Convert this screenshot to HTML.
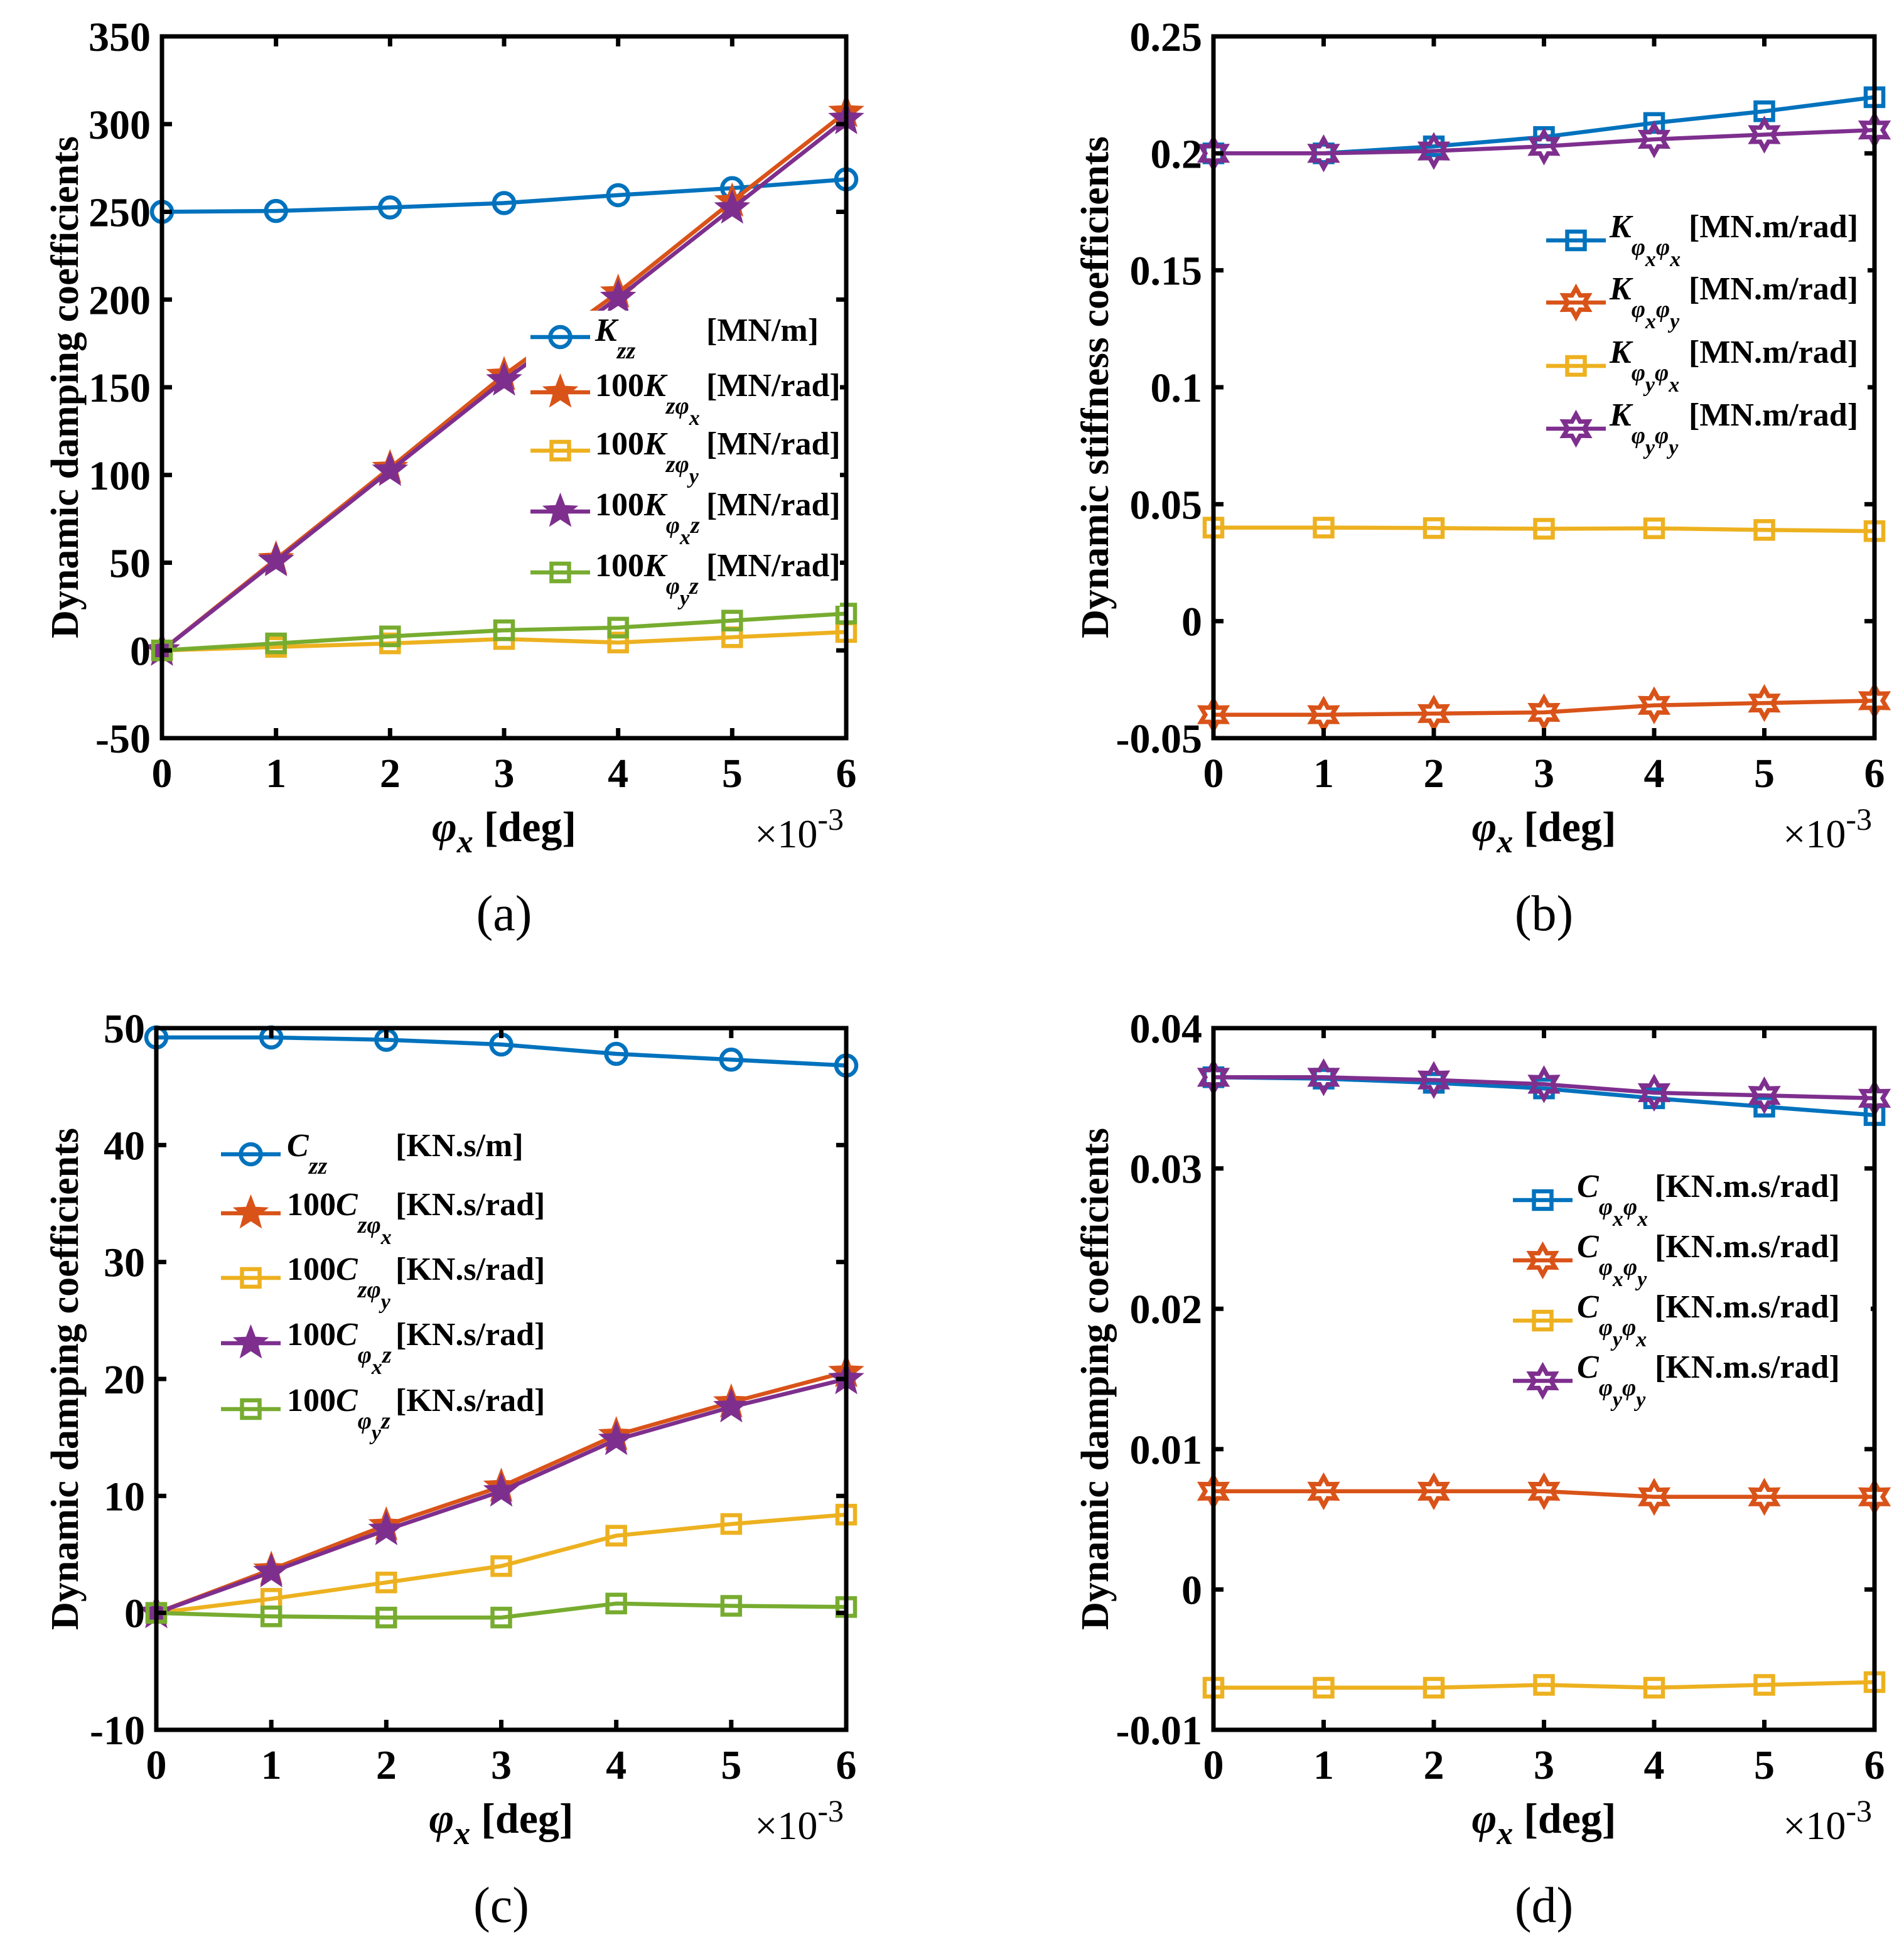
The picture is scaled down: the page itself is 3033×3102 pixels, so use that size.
<!DOCTYPE html>
<html><head><meta charset="utf-8">
<style>
html,body{margin:0;padding:0;background:#fff;}
svg{display:block;}
text{font-family:"Liberation Serif",serif;font-weight:bold;fill:#000;}
</style></head>
<body>
<svg id="fig" width="3033" height="3102" viewBox="0 0 3033 3102" xmlns="http://www.w3.org/2000/svg">
<rect x="0" y="0" width="3033" height="3102" fill="#fff"/>
</svg>
<script>
// shared x categories
const xVals = [0, 1, 2, 3, 4, 5, 6];
const xTicks = ['0','1','2','3','4','5','6'];

// panel (a)
const aKzz   = [250, 250.5, 252.5, 255, 259.5, 263.5, 268.5];
const aKzpx  = [0, 52, 104, 157, 204, 256, 307];
const aKzpy  = [0, 2, 4, 6.5, 4.5, 7.5, 10.5];
const aKpxz  = [0, 51, 102.5, 154, 201, 252, 303];
const aKpyz  = [0, 4, 8, 11.5, 13, 17, 21];
const aYTicks = [-50, 0, 50, 100, 150, 200, 250, 300, 350];

// panel (b)
const bKpxpx = [0.2, 0.2, 0.203, 0.207, 0.213, 0.218, 0.224];
const bKpxpy = [-0.04, -0.04, -0.0395, -0.039, -0.036, -0.035, -0.034];
const bKpypx = [0.04, 0.04, 0.0398, 0.0395, 0.0397, 0.039, 0.0385];
const bKpypy = [0.2, 0.2, 0.201, 0.203, 0.206, 0.208, 0.210];
const bYTicks = [-0.05, 0, 0.05, 0.1, 0.15, 0.2, 0.25];
const bYLabels = ['-0.05','0','0.05','0.1','0.15','0.2','0.25'];

// panel (c)
const cCzz   = [49.2, 49.2, 49, 48.6, 47.8, 47.3, 46.8];
const cCzpx  = [0, 3.7, 7.5, 10.8, 15.2, 18, 20.6];
const cCzpy  = [0, 1.2, 2.6, 4, 6.6, 7.6, 8.4];
const cCpxz  = [0, 3.5, 7.1, 10.4, 14.8, 17.6, 20];
const cCpyz  = [0, -0.3, -0.4, -0.4, 0.8, 0.6, 0.5];
const cYTicks = [-10, 0, 10, 20, 30, 40, 50];

// panel (d)
const dCpxpx = [0.0365, 0.0364, 0.0361, 0.0357, 0.0350, 0.0344, 0.0338];
const dCpxpy = [0.007, 0.007, 0.007, 0.007, 0.0066, 0.0066, 0.0066];
const dCpypx = [-0.007, -0.007, -0.007, -0.0068, -0.007, -0.0068, -0.0066];
const dCpypy = [0.0365, 0.0365, 0.0363, 0.036, 0.0354, 0.0352, 0.035];
const dYTicks = [-0.01, 0, 0.01, 0.02, 0.03, 0.04];
const dYLabels = ['-0.01','0','0.01','0.02','0.03','0.04'];

const BLUE='#0072BD', ORANGE='#D95319', YELLOW='#EDB120', PURPLE='#7E2F8E', GREEN='#77AC30';
const NS='http://www.w3.org/2000/svg';
const svg=document.getElementById('fig');

function mk(tag, attrs, parent){
  const e=document.createElementNS(NS,tag);
  for(const k in attrs) e.setAttribute(k,attrs[k]);
  (parent||svg).appendChild(e);
  return e;
}

function drawMarker(g, type, cx, cy, color){
  let m;
  if(type==='circle'){
    m=mk('circle',{cx:cx,cy:cy,r:16,fill:'none',stroke:color,'stroke-width':6.5},g);
  } else if(type==='square'){
    m=mk('rect',{x:cx-14,y:cy-14,width:28,height:28,fill:'none',stroke:color,'stroke-width':6.5},g);
  } else if(type==='star'){
    let p=[];
    for(let i=0;i<10;i++){const r=i%2?11:26;const a=-Math.PI/2+i*Math.PI/5;p.push((cx+r*Math.cos(a)).toFixed(1)+','+(cy+r*Math.sin(a)).toFixed(1));}
    m=mk('polygon',{points:p.join(' '),fill:color,stroke:color,'stroke-width':3},g);
  } else {
    let p=[];
    for(let i=0;i<12;i++){const r=i%2?13:23;const a=-Math.PI/2+i*Math.PI/6;p.push((cx+r*Math.cos(a)).toFixed(1)+','+(cy+r*Math.sin(a)).toFixed(1));}
    m=mk('polygon',{points:p.join(' '),fill:'none',stroke:color,'stroke-width':7},g);
  }
  
  
}

function richText(parent, x, y, pieces, name){
  const t=mk('text',{x:x,y:y,'font-size':52},parent);
  
  
  const sizes=[52,38,34], offs=[0,28,46];
  let lvl=0;
  pieces.forEach(p=>{
    const ts=mk('tspan',{'font-size':sizes[p[1]]},t);
    if(p[1]!==lvl){ts.setAttribute('dy',offs[p[1]]-offs[lvl]);lvl=p[1];}
    if(p[2]) ts.setAttribute('font-style','italic');
    ts.textContent=p[0];
  });
  return t;
}

function panel(cfg){
  const g=mk('g',{});
  
  
  const L=cfg.L,R=cfg.R,T=cfg.T,B=cfg.B;
  const xs=v=>L+(v-0)/(6-0)*(R-L);
  const ys=v=>B-(v-cfg.ymin)/(cfg.ymax-cfg.ymin)*(B-T);
  cfg.series.forEach(s=>{
    const sg=mk('g',{},g);
    
    
    const pts=xVals.map((x,i)=>xs(x).toFixed(1)+','+ys(s.data[i]).toFixed(1)).join(' ');
    const pl=mk('polyline',{points:pts,fill:'none',stroke:s.color,'stroke-width':6.5,'stroke-linejoin':'round'},sg);
    
    
    xVals.forEach((x,i)=>drawMarker(sg,s.marker,xs(x),ys(s.data[i]),s.color));
  });
  const box=mk('rect',{x:L,y:T,width:R-L,height:B-T,fill:'none',stroke:'#000','stroke-width':7},g);
  
  
  xVals.forEach((x,i)=>{
    const X=xs(x);
    mk('line',{x1:X,y1:B,x2:X,y2:B-16,stroke:'#000','stroke-width':7},g);
    mk('line',{x1:X,y1:T,x2:X,y2:T+16,stroke:'#000','stroke-width':7},g);
    const t=mk('text',{x:X,y:B+78,'font-size':66,'text-anchor':'middle'},g);
    
    
    t.textContent=xTicks[i];
  });
  cfg.yTicks.forEach((v,i)=>{
    const Y=ys(v);
    mk('line',{x1:L,y1:Y,x2:L+16,y2:Y,stroke:'#000','stroke-width':7},g);
    mk('line',{x1:R,y1:Y,x2:R-16,y2:Y,stroke:'#000','stroke-width':7},g);
    const t=mk('text',{x:L-18,y:Y+23,'font-size':66,'text-anchor':'end'},g);
    
    
    t.textContent=cfg.yLabels[i];
  });
  const cy=(T+B)/2;
  const yl=mk('text',{x:cfg.ylx,y:cy,'font-size':62,'text-anchor':'middle',textLength:800,lengthAdjust:'spacingAndGlyphs',transform:'rotate(-90 '+cfg.ylx+' '+cy+')'},g);
  
  
  yl.textContent=cfg.ylabel;
  const cx=(L+R)/2;
  const xl=mk('text',{x:cx-115,y:B+164,'font-size':68},g);
  
  
  const a1=mk('tspan',{'font-style':'italic'},xl); a1.textContent='φ';
  const a2=mk('tspan',{'font-style':'italic','font-size':52,dy:18},xl); a2.textContent='x';
  const a3=mk('tspan',{dy:-18},xl); a3.textContent=' [deg]';
  const ex=mk('text',{x:R-4,y:B+174,'font-size':64,'text-anchor':'end',style:'font-weight:normal'},g);
  
  
  const e1=mk('tspan',{},ex); e1.textContent='×10';
  const e2=mk('tspan',{'font-size':50,dy:-28},ex); e2.textContent='-3';
  const cap=mk('text',{x:cx,y:B+306,'font-size':80,'text-anchor':'middle',style:'font-weight:normal'},g);
  
  
  cap.textContent=cfg.caption;
  const lg=mk('g',{},g);
  
  
  const lb=cfg.legBox;
  mk('rect',{x:lb[0],y:lb[1],width:lb[2],height:lb[3],fill:'#fff'},lg);
  cfg.series.forEach((s,i)=>{
    const Y=cfg.legY[i];
    const eg=mk('g',{},lg);
    
    
    mk('line',{x1:cfg.legLx[0],y1:Y,x2:cfg.legLx[1],y2:Y,stroke:s.color,'stroke-width':6.5},eg);
    drawMarker(eg,s.marker,(cfg.legLx[0]+cfg.legLx[1])/2,Y,s.color);
    richText(eg,cfg.legTx,Y+cfg.legDy,s.label,'legend-label');
    const u=mk('text',{x:cfg.legUx,y:Y+cfg.legDy,'font-size':52},eg);
    
    
    u.textContent=s.unit;
  });
}

panel({name:'panel-a',L:258,R:1348,T:58,B:1176,ymin:-50,ymax:350,
  yTicks:aYTicks,yLabels:aYTicks.map(String),ylx:124,ylabel:'Dynamic damping coefficients',caption:'(a)',
  legBox:[838,495,500,470],legY:[537,625,718,815,912],legLx:[845,940],legTx:948,legUx:1125,legDy:6,
  series:[
    {name:'series-Kzz',data:aKzz,color:BLUE,marker:'circle',unit:'[MN/m]',label:[['K',0,1],['zz',1,1]]},
    {name:'series-Kzphix',data:aKzpx,color:ORANGE,marker:'star',unit:'[MN/rad]',label:[['100',0,0],['K',0,1],['zφ',1,1],['x',2,1]]},
    {name:'series-Kzphiy',data:aKzpy,color:YELLOW,marker:'square',unit:'[MN/rad]',label:[['100',0,0],['K',0,1],['zφ',1,1],['y',2,1]]},
    {name:'series-Kphixz',data:aKpxz,color:PURPLE,marker:'star',unit:'[MN/rad]',label:[['100',0,0],['K',0,1],['φ',1,1],['x',2,1],['z',1,1]]},
    {name:'series-Kphiyz',data:aKpyz,color:GREEN,marker:'square',unit:'[MN/rad]',label:[['100',0,0],['K',0,1],['φ',1,1],['y',2,1],['z',1,1]]}
  ]});

panel({name:'panel-b',L:1933,R:2986,T:58,B:1176,ymin:-0.05,ymax:0.25,
  yTicks:bYTicks,yLabels:bYLabels,ylx:1765,ylabel:'Dynamic stiffness coefficients',caption:'(b)',
  legBox:[2455,340,520,380],legY:[383,482,583,683],legLx:[2463,2558],legTx:2564,legUx:2690,legDy:-5,
  series:[
    {name:'series-Kphixphix',data:bKpxpx,color:BLUE,marker:'square',unit:'[MN.m/rad]',label:[['K',0,1],['φ',1,1],['x',2,1],['φ',1,1],['x',2,1]]},
    {name:'series-Kphixphiy',data:bKpxpy,color:ORANGE,marker:'hex',unit:'[MN.m/rad]',label:[['K',0,1],['φ',1,1],['x',2,1],['φ',1,1],['y',2,1]]},
    {name:'series-Kphiyphix',data:bKpypx,color:YELLOW,marker:'square',unit:'[MN.m/rad]',label:[['K',0,1],['φ',1,1],['y',2,1],['φ',1,1],['x',2,1]]},
    {name:'series-Kphiyphiy',data:bKpypy,color:PURPLE,marker:'hex',unit:'[MN.m/rad]',label:[['K',0,1],['φ',1,1],['y',2,1],['φ',1,1],['y',2,1]]}
  ]});

panel({name:'panel-c',L:249,R:1348,T:1638,B:2756,ymin:-10,ymax:50,
  yTicks:cYTicks,yLabels:cYTicks.map(String),ylx:124,ylabel:'Dynamic damping coefficients',caption:'(c)',
  legBox:[345,1795,500,470],legY:[1839,1933,2036,2140,2245],legLx:[352,447],legTx:457,legUx:630,legDy:3,
  series:[
    {name:'series-Czz',data:cCzz,color:BLUE,marker:'circle',unit:'[KN.s/m]',label:[['C',0,1],['zz',1,1]]},
    {name:'series-Czphix',data:cCzpx,color:ORANGE,marker:'star',unit:'[KN.s/rad]',label:[['100',0,0],['C',0,1],['zφ',1,1],['x',2,1]]},
    {name:'series-Czphiy',data:cCzpy,color:YELLOW,marker:'square',unit:'[KN.s/rad]',label:[['100',0,0],['C',0,1],['zφ',1,1],['y',2,1]]},
    {name:'series-Cphixz',data:cCpxz,color:PURPLE,marker:'star',unit:'[KN.s/rad]',label:[['100',0,0],['C',0,1],['φ',1,1],['x',2,1],['z',1,1]]},
    {name:'series-Cphiyz',data:cCpyz,color:GREEN,marker:'square',unit:'[KN.s/rad]',label:[['100',0,0],['C',0,1],['φ',1,1],['y',2,1],['z',1,1]]}
  ]});

panel({name:'panel-d',L:1933,R:2986,T:1638,B:2756,ymin:-0.01,ymax:0.04,
  yTicks:dYTicks,yLabels:dYLabels,ylx:1765,ylabel:'Dynamic damping coefficients',caption:'(d)',
  legBox:[2400,1870,580,380],legY:[1912,2008,2104,2200],legLx:[2410,2505],legTx:2512,legUx:2636,legDy:-5,
  series:[
    {name:'series-Cphixphix',data:dCpxpx,color:BLUE,marker:'square',unit:'[KN.m.s/rad]',label:[['C',0,1],['φ',1,1],['x',2,1],['φ',1,1],['x',2,1]]},
    {name:'series-Cphixphiy',data:dCpxpy,color:ORANGE,marker:'hex',unit:'[KN.m.s/rad]',label:[['C',0,1],['φ',1,1],['x',2,1],['φ',1,1],['y',2,1]]},
    {name:'series-Cphiyphix',data:dCpypx,color:YELLOW,marker:'square',unit:'[KN.m.s/rad]',label:[['C',0,1],['φ',1,1],['y',2,1],['φ',1,1],['x',2,1]]},
    {name:'series-Cphiyphiy',data:dCpypy,color:PURPLE,marker:'hex',unit:'[KN.m.s/rad]',label:[['C',0,1],['φ',1,1],['y',2,1],['φ',1,1],['y',2,1]]}
  ]});
</script>
</body></html>
